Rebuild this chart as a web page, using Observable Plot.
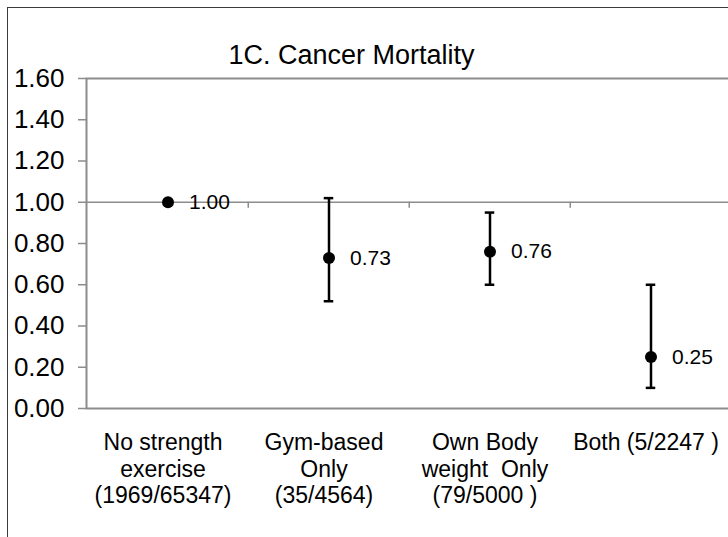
<!DOCTYPE html>
<html>
<head>
<meta charset="utf-8">
<script src="https://cdn.jsdelivr.net/npm/d3@7"></script>
<script src="https://cdn.jsdelivr.net/npm/@observablehq/plot@0.6"></script>
<style>
  html, body { margin: 0; padding: 0; background: #fff; overflow: hidden; }
  #wrap { position: relative; width: 728px; height: 537px; overflow: hidden; }
  #border { position: absolute; left: 7px; top: 7px; width: 900px; height: 700px;
            border: 1px solid #3a3a3a; box-sizing: border-box; pointer-events: none; }
  svg text { white-space: pre; }
</style>
</head>
<body>
<div id="wrap"><div id="border"></div></div>
<script>
const title = "1C. Cancer Mortality";
const categories = [
  "No strength\nexercise\n(1969/65347)",
  "Gym-based\nOnly\n(35/4564)",
  "Own Body\nweight  Only\n(79/5000 )",
  "Both (5/2247 )"
];
const hazardRatio = [1.00, 0.73, 0.76, 0.25];
const lowerCI = [null, 0.52, 0.60, 0.10];
const upperCI = [null, 1.02, 0.95, 0.60];
const valueLabels = ["1.00", "0.73", "0.76", "0.25"];
const yTicks = [0, 0.2, 0.4, 0.6, 0.8, 1.0, 1.2, 1.4, 1.6];
const referenceLine = [1.0];

const rows = categories.map((c, i) => ({
  cat: c, hr: hazardRatio[i], lo: lowerCI[i], hi: upperCI[i], label: valueLabels[i]
}));
const ciRows = rows.filter(d => d.lo != null);

const W = 728, H = 537;
const mL = 86, mR = -4, mT = 78, mB = 129;
const bandW = (W - mL - mR) / categories.length;
const capW = 10;
const capInset = (bandW - capW) / 2;
const axisGray = "#8c8c8c";

const chart = Plot.plot({
  width: W,
  height: H,
  marginLeft: mL,
  marginRight: mR,
  marginTop: mT,
  marginBottom: mB,
  style: { fontFamily: "'Liberation Sans', Arial, sans-serif", color: "black", background: "transparent" },
  x: { domain: categories, padding: 0, axis: null },
  y: { domain: [0, 1.6] },
  marks: [
    Plot.frame({ stroke: axisGray, strokeWidth: 2 }),
    Plot.ruleY(referenceLine, { stroke: axisGray, strokeWidth: 1.5 }),
    Plot.ruleX(categories.slice(1), { x: d => d, y1: referenceLine[0], y2: referenceLine[0],
      dx: -bandW / 2, insetBottom: -6, stroke: axisGray, strokeWidth: 1.5 }),
    Plot.axisY({ ticks: yTicks, tickFormat: d3.format(".2f"), tickSize: 8, tickPadding: 14,
      fontSize: 26, stroke: axisGray, strokeWidth: 1.5, fill: "black" }),
    Plot.ruleX(ciRows, { x: "cat", y1: "lo", y2: "hi", stroke: "black", strokeWidth: 2.5 }),
    Plot.tickY(ciRows, { x: "cat", y: "lo", stroke: "black", strokeWidth: 2.5, insetLeft: capInset, insetRight: capInset }),
    Plot.tickY(ciRows, { x: "cat", y: "hi", stroke: "black", strokeWidth: 2.5, insetLeft: capInset, insetRight: capInset }),
    Plot.dot(rows, { x: "cat", y: "hr", r: 6, fill: "black", stroke: "none" }),
    Plot.text(rows, { x: "cat", y: "hr", text: "label", textAnchor: "start", dx: 21,
      fontSize: 21, fill: "black", lineAnchor: "middle" }),
    Plot.text(categories, { x: d => d, text: d => d, frameAnchor: "bottom", lineAnchor: "top",
      dy: 22, dx: -5, fontSize: 23, lineHeight: 1.17, fill: "black" }),
    Plot.text([title], { text: d => d, frameAnchor: "top-left", textAnchor: "middle", lineAnchor: "bottom",
      dx: 351 - mL, dy: -15, fontSize: 27, fill: "black" })
  ]
});
document.getElementById("wrap").insertBefore(chart, document.getElementById("border"));
</script>
</body>
</html>
